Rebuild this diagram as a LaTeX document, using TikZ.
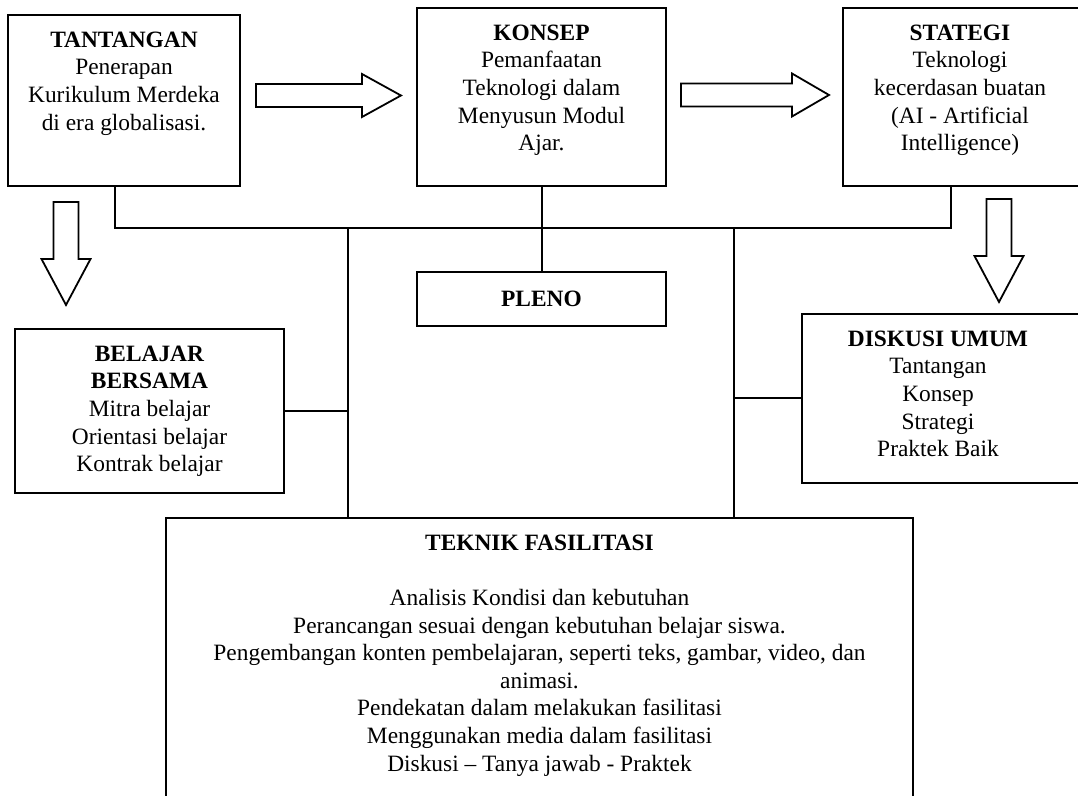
\documentclass[tikz,border=0pt]{standalone}
\usepackage{fontspec}
\setmainfont{Liberation Serif}
\usetikzlibrary{calc,positioning}
\def\sw{11.5}
\def\hw{21.5}
\def\dsw{12.5}
\def\dhw{24.5}
\def\rightblock(#1,#2)(#3:#4){\draw[blk] (#1,#2-\sw) -- (#3,#2-\sw) -- (#3,#2-\hw) -- (#4,#2) -- (#3,#2+\hw) -- (#3,#2+\sw) -- (#1,#2+\sw) -- cycle;}
\def\downblock(#1,#2)(#3:#4){\draw[blk] (#1-\dsw,#2) -- (#1-\dsw,#3) -- (#1-\dhw,#3) -- (#1,#4) -- (#1+\dhw,#3) -- (#1+\dsw,#3) -- (#1+\dsw,#2) -- cycle;}
\begin{document}
\begin{tikzpicture}[x=0.5pt,y=-0.5pt,
    box/.style={draw,line width=1pt,inner sep=0pt,font=\fontsize{11.7}{13.8}\selectfont},
    txt/.style={anchor=north,inner sep=0pt,yshift=-8.7pt,align=center,font=\fontsize{11.7}{13.8}\selectfont},
    blk/.style={draw,line width=0.9pt,fill=white},
    wire/.style={line width=1pt}]
				%%%%% START %%%%%
				\useasboundingbox (0,0) rectangle (1078,796);
				\clip (0,0) rectangle (1078,796);
				
				% boxes
				\node[box,minimum width=116pt,minimum height=85.5pt] (tant) at (124,100.5) {};
				\node[box,minimum width=124.5pt,minimum height=89pt] (konsep) at (541.5,97) {};
				\node[box,minimum width=118.5pt,minimum height=89pt] (strat) at (961.5,97) {};
				\node[box,minimum width=124.5pt,minimum height=27pt] (pleno) at (541.5,299) {\textbf{PLENO}};
				\node[box,minimum width=134.5pt,minimum height=82pt] (belajar) at (149.5,411) {};
				\node[box,minimum width=139pt,minimum height=84.5pt] (diskusi) at (941,398.5) {};
				\node[box,minimum width=373.5pt,minimum height=156pt] (teknik) at (539.5,674) {};
				
				% texts
				\node[txt] (tant-t) at (tant.north) {\textbf{TANTANGAN}\\Penerapan\\Kurikulum Merdeka\\di era globalisasi.};
				\node[txt] (konsep-t) at (konsep.north) {\textbf{KONSEP}\\Pemanfaatan\\Teknologi dalam\\Menyusun Modul\\Ajar.};
				\node[txt,xshift=-0.75pt] (strat-t) at (strat.north) {\textbf{STATEGI}\\Teknologi\\kecerdasan buatan\\(AI - Artificial\\Intelligence)};
				\node[txt] (belajar-t) at (belajar.north) {\textbf{BELAJAR}\\\textbf{BERSAMA}\\Mitra belajar\\Orientasi belajar\\Kontrak belajar};
				\node[txt,xshift=-1.5pt] (diskusi-t) at (diskusi.north) {\textbf{DISKUSI UMUM}\\Tantangan\\Konsep\\Strategi\\Praktek Baik};
				\node[txt] (teknik-t) at (teknik.north) {\textbf{TEKNIK FASILITASI}\\[13.8pt]Analisis Kondisi dan kebutuhan\\Perancangan sesuai dengan kebutuhan belajar siswa.\\Pengembangan konten pembelajaran, seperti teks, gambar, video, dan\\animasi.\\Pendekatan dalam melakukan fasilitasi\\Menggunakan media dalam fasilitasi\\Diskusi – Tanya jawab - Praktek};
				
				% block arrows
				\rightblock(256,95.5)(362:401)
				\rightblock(681,95)(792:829)
				\downblock(66,202)(259:305)
				\downblock(999,199)(256:302)
				
				% wires
				\coordinate (busL) at (348,228);
				\coordinate (busR) at (734,228);
				\coordinate (tantout) at ($(tant.south)+(-9,0)$);
				\coordinate (stratout) at ($(strat.south)+(-10.5,0)$);
				\draw[wire] (tantout) -- (tantout |- busL) -- (stratout |- busL) -- (stratout);
				\draw[wire] (konsep.south) -- (pleno.north);
				\draw[wire] (busL) -- (busL |- teknik.north);
				\draw[wire] (busR) -- (busR |- teknik.north);
				\draw[wire] (belajar.east) -- (belajar.east -| busL);
				\draw[wire] (diskusi.west) -- (diskusi.west -| busR);
				%%%%% END %%%%%
\end{tikzpicture}
\end{document}
